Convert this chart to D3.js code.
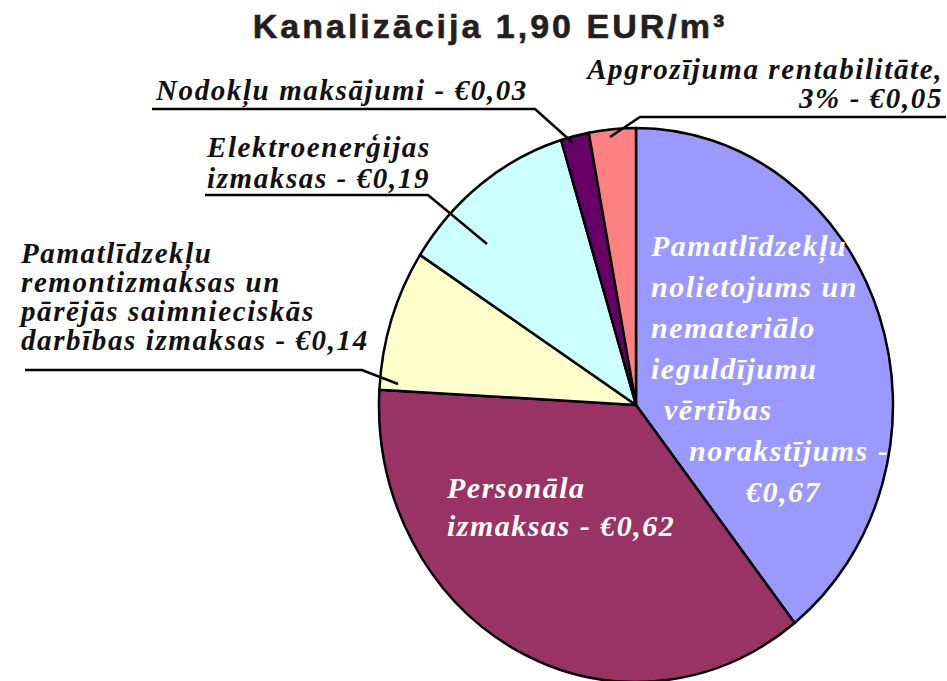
<!DOCTYPE html>
<html>
<head>
<meta charset="utf-8">
<script src="https://cdn.jsdelivr.net/npm/d3@7"></script>
<style>
  body { margin: 0; background: #fff; }
</style>
</head>
<body>
<div class="chart"></div>
<script>
const width = 947, height = 681;

// slices, clockwise from 12 o'clock
const categories = [
  "Pamatlīdzekļu nolietojums un nemateriālo ieguldījumu vērtības norakstījums",
  "Personāla izmaksas",
  "Pamatlīdzekļu remontizmaksas un pārējās saimnieciskās darbības izmaksas",
  "Elektroenerģijas izmaksas",
  "Nodokļu maksājumi",
  "Apgrozījuma rentabilitāte"
];
const values = [0.67, 0.62, 0.14, 0.19, 0.03, 0.05];
const colors = ["#9999ff", "#993366", "#ffffcc", "#ccffff", "#660066", "#ff8080"];
const labelLines = [
  ["Pamatlīdzekļu", "nolietojums un", "nemateriālo", "ieguldījumu", "vērtības", "norakstījums -", "€0,67"],
  ["Personāla", "izmaksas - €0,62"],
  ["Pamatlīdzekļu", "remontizmaksas un", "pārējās saimnieciskās", "darbības izmaksas - €0,14"],
  ["Elektroenerģijas", "izmaksas - €0,19"],
  ["Nodokļu maksājumi - €0,03"],
  ["Apgrozījuma rentabilitāte,", "3% - €0,05"]
];

// label placement (layout only)
const serif = "'Liberation Serif', 'Times New Roman', Tinos, 'DejaVu Serif', serif";
const inside = [
  {x: [651, 651, 651, 651, 664, 689, 746], y0: 256, dy: 41},
  {x: [447, 447], y0: 498, dy: 38}
];
const outside = [
  {idx: 2, x: 21, y0: 263, dy: 29, anchor: "start", line: [[25, 370], [362, 370], [398, 384]]},
  {idx: 3, x: 207, y0: 157, dy: 31, anchor: "start", line: [[205, 195], [428, 195], [487, 244]]},
  {idx: 4, x: 156, y0: 100, dy: 30, anchor: "start", line: [[152, 109], [535, 109], [573, 143]]},
  {idx: 5, x: 943, y0: 79, dy: 29, anchor: "end", line: [[946, 117], [640, 117], [610, 137]]}
];

const cx = 636, cy = 405, rx = 257, ry = 277;

const svg = d3.select(".chart").append("svg")
  .attr("width", width)
  .attr("height", height);

svg.append("text")
  .attr("x", 490)
  .attr("y", 38)
  .attr("text-anchor", "middle")
  .attr("font-family", "'Liberation Sans', Arial, Helvetica, sans-serif")
  .attr("font-weight", "bold")
  .attr("font-size", 34)
  .attr("letter-spacing", 3)
  .attr("stroke", "#231f20")
  .attr("stroke-width", 0.6)
  .attr("fill", "#231f20")
  .text("Kanalizācija 1,90 EUR/m³");

const pie = d3.pie().sort(null).value(d => d);
const arcs = pie(values);
const arc = d3.arc().innerRadius(0).outerRadius(ry);

const g = svg.append("g")
  .attr("transform", "translate(" + cx + "," + cy + ") scale(" + (rx / ry) + ",1)");

g.selectAll("path")
  .data(arcs)
  .enter().append("path")
  .attr("d", arc)
  .attr("fill", (d, i) => colors[i])
  .attr("stroke", "#000")
  .attr("stroke-width", 2.5)
  .attr("stroke-linejoin", "round")
  .attr("vector-effect", "non-scaling-stroke");

// white labels inside the two big slices
inside.forEach((p, i) => {
  labelLines[i].forEach((t, j) => {
    svg.append("text")
      .attr("x", p.x[j])
      .attr("y", p.y0 + j * p.dy)
      .attr("font-family", serif)
      .attr("font-style", "italic")
      .attr("font-weight", "bold")
      .attr("font-size", 30)
      .attr("letter-spacing", 1.5)
      .attr("fill", "#fff")
      .text(t);
  });
});

// outside labels with leader lines
const line = d3.line();
outside.forEach(p => {
  labelLines[p.idx].forEach((t, j) => {
    svg.append("text")
      .attr("x", p.x)
      .attr("y", p.y0 + j * p.dy)
      .attr("text-anchor", p.anchor)
      .attr("font-family", serif)
      .attr("font-style", "italic")
      .attr("font-weight", "bold")
      .attr("font-size", 29)
      .attr("letter-spacing", 1.6)
      .attr("fill", "#111")
      .text(t);
  });
  svg.append("path")
    .attr("d", line(p.line))
    .attr("fill", "none")
    .attr("stroke", "#000")
    .attr("stroke-width", 2.5);
});
</script>
</body>
</html>
